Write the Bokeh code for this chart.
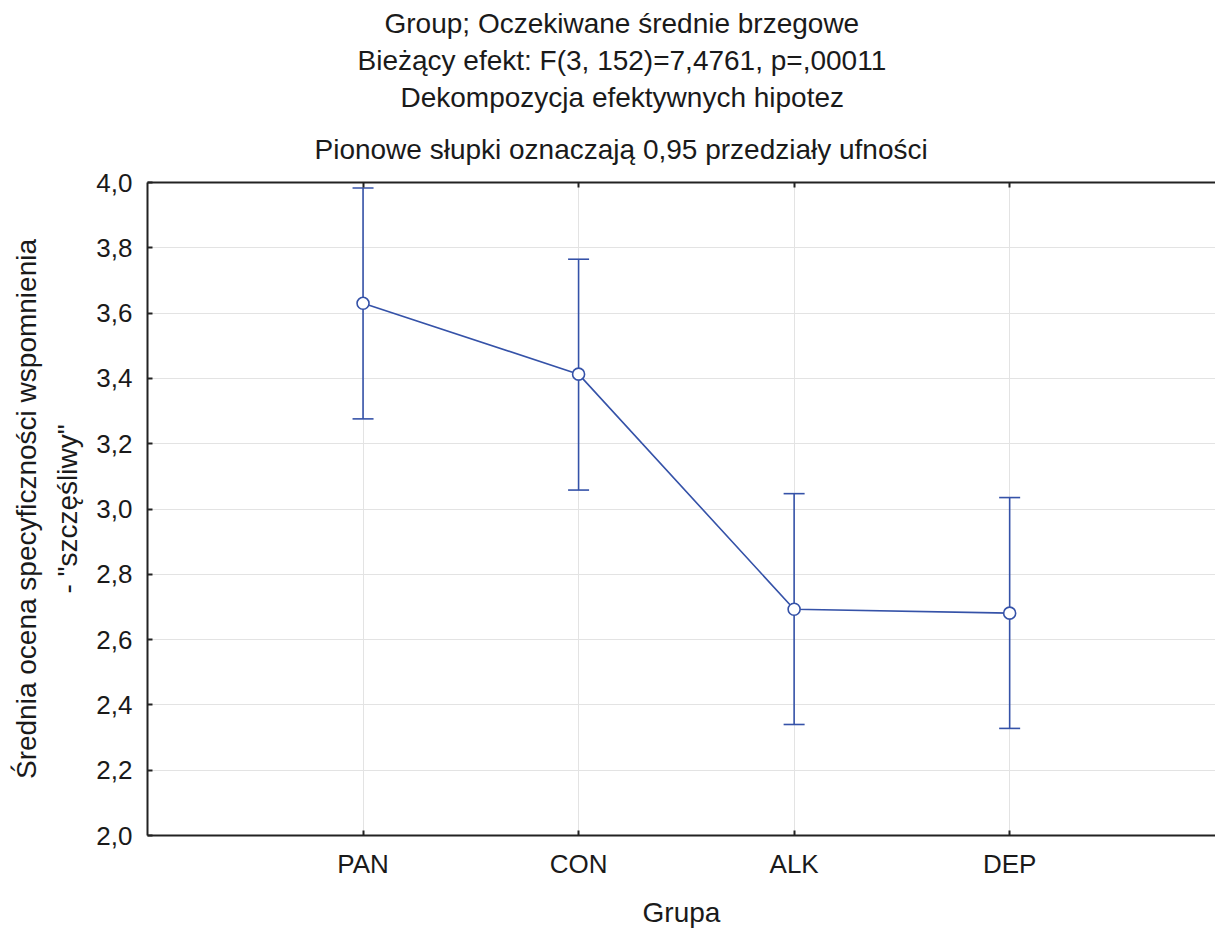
from bokeh.plotting import figure
from bokeh.models import (ColumnDataSource, Range1d, FixedTicker, LinearAxis,
                          Whisker, TeeHead, Title)
from bokeh.embed import file_html
from bokeh.resources import INLINE

# ---- data ----
categories = ["PAN", "CON", "ALK", "DEP"]
means = [3.630, 3.413, 2.693, 2.681]
upper = [3.983, 3.765, 3.047, 3.035]
lower = [3.276, 3.058, 2.340, 2.328]
y_ticks = [2.0, 2.2, 2.4, 2.6, 2.8, 3.0, 3.2, 3.4, 3.6, 3.8, 4.0]
title_lines = [
    "Group; Oczekiwane średnie brzegowe",
    "Bieżący efekt: F(3, 152)=7,4761, p=,00011",
    "Dekompozycja efektywnych hipotez",
    "Pionowe słupki oznaczają 0,95 przedziały ufności",
]
x_label = "Grupa"
y_label_lines = ["Średnia ocena specyficzności wspomnienia", "- \"szczęśliwy\""]

FONT = "Liberation Sans"
BLUE = "#3552a8"
AX = "#222222"
TXT = "#1a1a1a"

xs = [i + 1 for i in range(len(categories))]
src = ColumnDataSource(dict(x=xs, m=means, up=upper, lo=lower))

p = figure(width=1215, height=930, output_backend="svg", toolbar_location=None,
           x_range=Range1d(0.0, 4.955), y_range=Range1d(2.0, 4.0),
           min_border_left=147, min_border_right=0, min_border_top=182,
           min_border_bottom=60)
p.outline_line_color = None
p.background_fill_color = "white"
p.border_fill_color = "white"

xaxis = p.below[0]
yaxis = p.left[0]

# top frame line with inward ticks (added first: nearest the plot)
top = LinearAxis(ticker=FixedTicker(ticks=xs),
                 major_label_overrides={x: "" for x in xs},
                 axis_line_color=AX, axis_line_width=2,
                 major_tick_line_color=AX, major_tick_line_width=2,
                 major_tick_in=5, major_tick_out=0, minor_tick_line_color=None,
                 major_label_standoff=0)
p.add_layout(top, "above")

# titles (later added = further from the plot); left-aligned with offsets
# so that every line is centred near x=621 of the page
title_offsets = [237, 210, 253, 167]
title_standoffs = [3.5, 3.5, 3.5, 35]
for t, off, so in reversed(list(zip(title_lines, title_offsets, title_standoffs))):
    p.add_layout(Title(text=t, align="left", text_font=FONT,
                       text_font_size="28px", text_font_style="normal",
                       text_color=TXT, standoff=so, offset=off), "above")

# axes
xaxis.ticker = FixedTicker(ticks=xs)
xaxis.major_label_overrides = {x: c for x, c in zip(xs, categories)}
xaxis.axis_label = x_label
yaxis.ticker = FixedTicker(ticks=y_ticks)
yaxis.major_label_overrides = {v: f"{v:.1f}".replace(".", ",") for v in y_ticks}
yaxis.axis_label = y_label_lines[1]

for ax in (xaxis, yaxis):
    ax.axis_line_color = AX
    ax.axis_line_width = 2
    ax.major_tick_line_color = AX
    ax.major_tick_line_width = 2
    ax.major_tick_in = 5
    ax.major_tick_out = 0
    ax.minor_tick_line_color = None
    ax.major_label_text_font = FONT
    ax.major_label_text_font_size = "26px"
    ax.major_label_text_color = TXT
    ax.axis_label_text_font = FONT
    ax.axis_label_text_font_size = "28px"
    ax.axis_label_text_font_style = "normal"
    ax.axis_label_text_color = TXT
    ax.axis_label_text_align = "center"

xaxis.major_label_standoff = 13
xaxis.axis_label_standoff = 15
yaxis.major_label_standoff = 15
yaxis.axis_label_standoff = 10

# first line of the y-axis title, outside the axis label
p.add_layout(Title(text=y_label_lines[0], align="center", text_font=FONT,
                   text_font_size="28px", text_font_style="normal",
                   text_color=TXT, standoff=16, offset=0), "left")

p.xgrid.ticker = FixedTicker(ticks=xs)
p.ygrid.ticker = FixedTicker(ticks=y_ticks)
p.grid.grid_line_color = "#e3e3e3"
p.grid.grid_line_width = 1

# data
p.line("x", "m", source=src, line_color=BLUE, line_width=1.6)
p.scatter("x", "m", source=src, size=12, marker="circle",
          fill_color="white", line_color=BLUE, line_width=1.6)
w = Whisker(base="x", upper="up", lower="lo", source=src,
            line_color=BLUE, line_width=1.6,
            upper_head=TeeHead(size=21, line_color=BLUE, line_width=1.6),
            lower_head=TeeHead(size=21, line_color=BLUE, line_width=1.6))
p.add_layout(w)

open("out.html", "w").write(file_html(p, INLINE))
